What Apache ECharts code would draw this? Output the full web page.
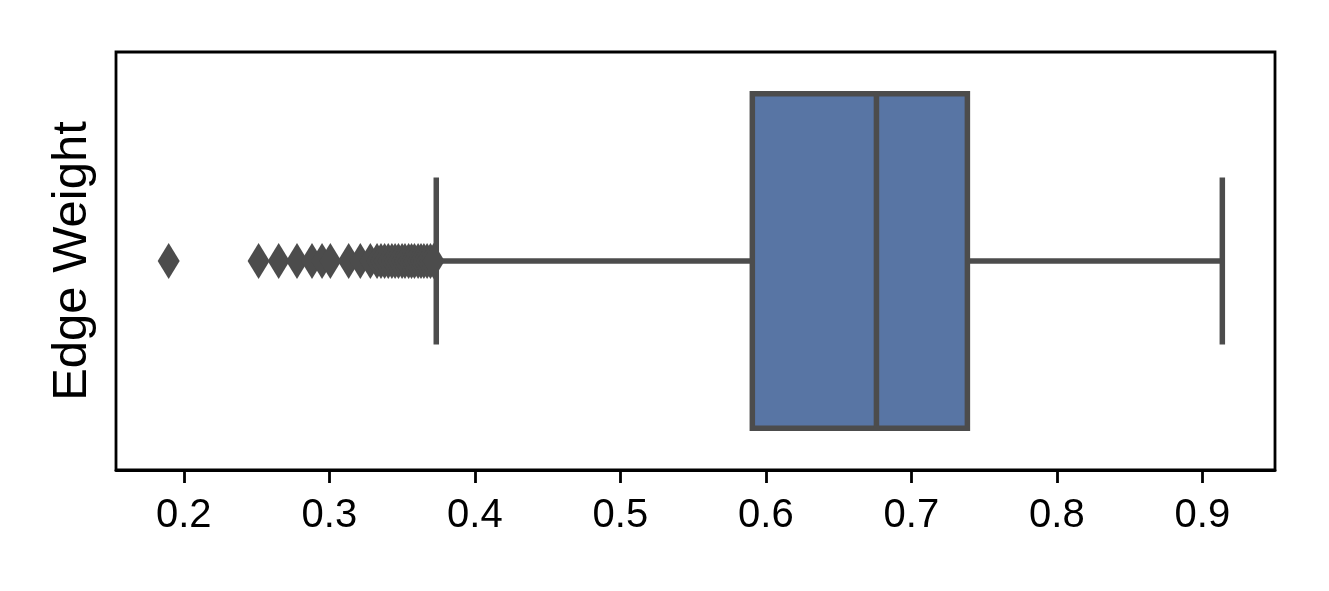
<!DOCTYPE html>
<html>
<head>
<meta charset="utf-8">
<script src="https://cdn.jsdelivr.net/npm/echarts@6/dist/echarts.min.js"></script>
<style>
html, body { margin: 0; padding: 0; background: #fff; }
#main { width: 1329px; height: 591px; }
</style>
</head>
<body>
<div id="main"></div>
<script>
// box stats: low whisker, q1, median, q3, high whisker
var categories = ['Edge Weight'];
var boxStats = [0.3735, 0.5907, 0.676, 0.7385, 0.9137];
var outliers = [0.1896, 0.2514, 0.2652, 0.2778, 0.2881, 0.295, 0.3007, 0.3133, 0.3213,
    0.3282, 0.3328, 0.3355, 0.338, 0.3405, 0.343, 0.3452, 0.3475, 0.35, 0.352, 0.3545,
    0.3565, 0.3585, 0.361, 0.363, 0.365, 0.3672, 0.3695, 0.3717];
var xTicks = [0.2, 0.3, 0.4, 0.5, 0.6, 0.7, 0.8, 0.9];

var dataMin = 0.1896, dataMax = 0.9137;
var pad = (dataMax - dataMin) * 0.05;

var gray = '#4c4c4c';
var chart = echarts.init(document.getElementById('main'));

function renderBox(params, api) {
    var y = api.value(0);
    var band = api.size([0, 1])[1];
    var half = band * 0.8 / 2;
    var capHalf = half / 2;
    var pLow = api.coord([api.value(1), y]);
    var pQ1 = api.coord([api.value(2), y]);
    var pMed = api.coord([api.value(3), y]);
    var pQ3 = api.coord([api.value(4), y]);
    var pHigh = api.coord([api.value(5), y]);
    var cy = pMed[1];
    var line = { stroke: gray, lineWidth: 5.5 };
    return {
        type: 'group',
        children: [
            { type: 'line', shape: { x1: pLow[0], y1: cy, x2: pQ1[0], y2: cy }, style: line },
            { type: 'line', shape: { x1: pQ3[0], y1: cy, x2: pHigh[0], y2: cy }, style: line },
            { type: 'line', shape: { x1: pLow[0], y1: cy - capHalf, x2: pLow[0], y2: cy + capHalf }, style: line },
            { type: 'line', shape: { x1: pHigh[0], y1: cy - capHalf, x2: pHigh[0], y2: cy + capHalf }, style: line },
            { type: 'rect', shape: { x: pQ1[0], y: cy - half, width: pQ3[0] - pQ1[0], height: half * 2 },
              style: { fill: '#5875a4', stroke: gray, lineWidth: 5.5 } },
            { type: 'line', shape: { x1: pMed[0], y1: cy - half, x2: pMed[0], y2: cy + half }, style: line }
        ]
    };
}

var option = {
    animation: false,
    backgroundColor: '#fff',
    grid: {
        left: 116, right: 54, top: 52, bottom: 121,
        show: true, borderColor: '#000', borderWidth: 2.8, backgroundColor: 'transparent'
    },
    xAxis: {
        type: 'value',
        min: +(dataMin - pad).toFixed(4),
        max: +(dataMax + pad).toFixed(4),
        splitNumber: 8,
        splitLine: { show: false },
        axisLine: { show: true, lineStyle: { color: '#000', width: 2.8 } },
        axisTick: { show: true, length: 13, lineStyle: { color: '#000', width: 2.8 } },
        axisLabel: {
            show: true, showMinLabel: false, showMaxLabel: false,
            color: '#000', fontSize: 40, fontFamily: 'Liberation Sans, Arial, sans-serif', margin: 26,
            formatter: function (v) {
                for (var i = 0; i < xTicks.length; i++) {
                    if (Math.abs(v - xTicks[i]) < 1e-6) return String(xTicks[i]);
                }
                return '';
            }
        }
    },
    yAxis: {
        type: 'category',
        data: categories,
        axisLine: { show: false },
        axisTick: { show: false },
        axisLabel: { show: false },
        name: 'Edge Weight',
        nameLocation: 'middle',
        nameGap: 19,
        nameTextStyle: { color: '#000', fontSize: 49, fontFamily: 'Liberation Sans, Arial, sans-serif' }
    },
    series: [
        {
            type: 'custom',
            renderItem: renderBox,
            encode: { y: 0, x: [1, 2, 3, 4, 5] },
            data: [[0].concat(boxStats)],
            z: 2
        },
        {
            type: 'scatter',
            symbol: 'diamond',
            symbolSize: [22, 36],
            itemStyle: { color: gray, opacity: 1 },
            data: outliers.map(function (v) { return [v, 0]; }),
            z: 3
        }
    ]
};
chart.setOption(option);
</script>
</body>
</html>
